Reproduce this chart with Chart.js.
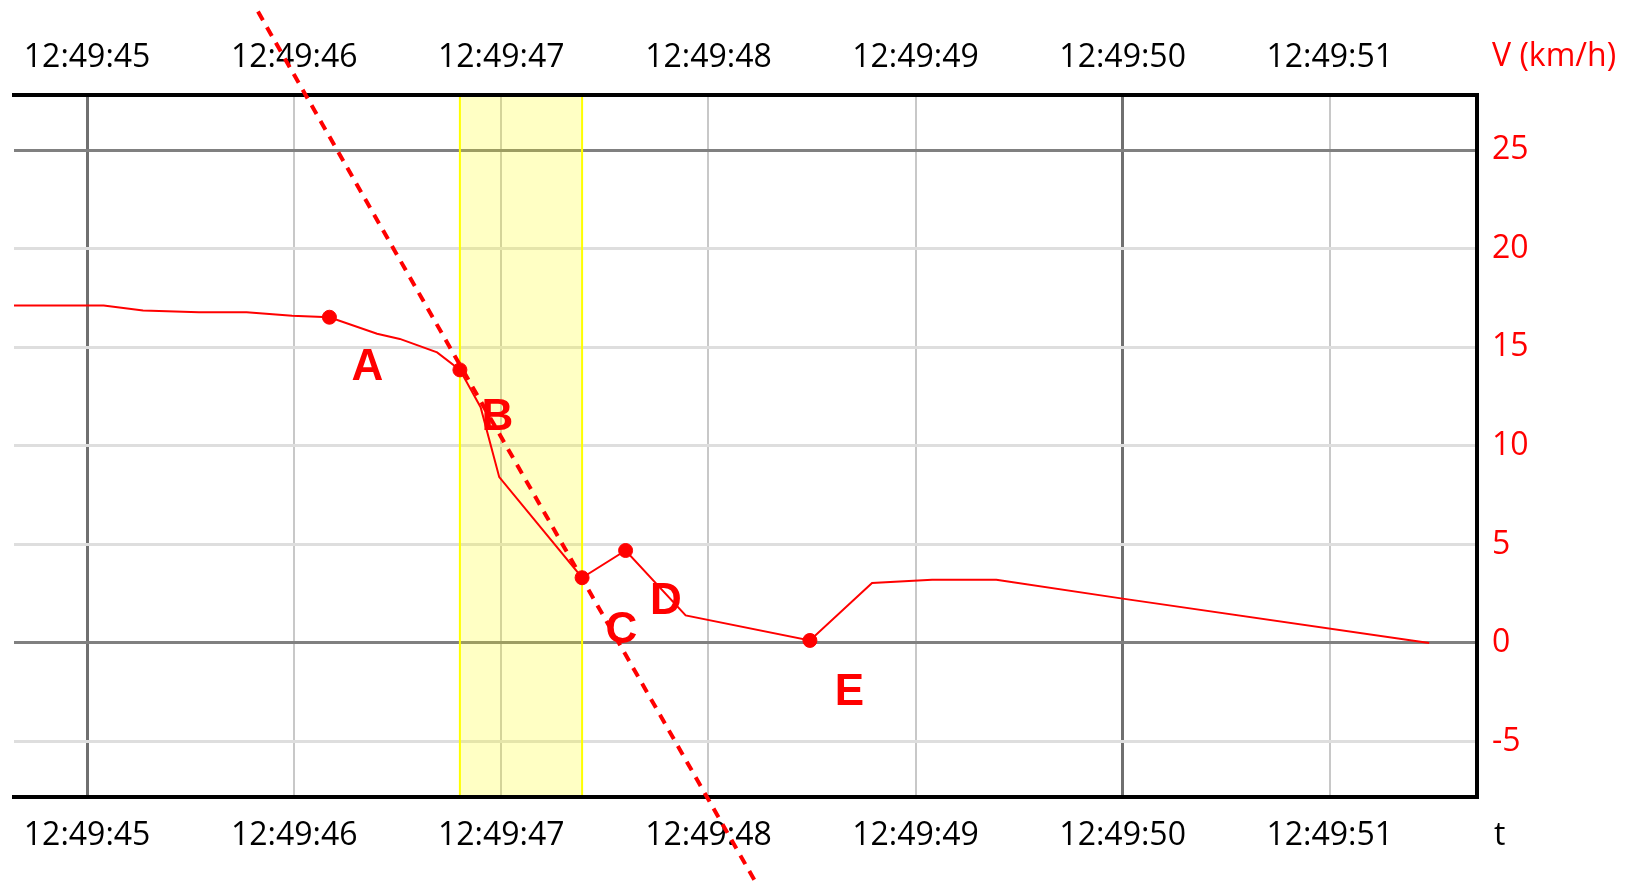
<!DOCTYPE html>
<html>
<head>
<meta charset="utf-8">
<title>V (km/h)</title>
<script src="https://cdn.jsdelivr.net/npm/chart.js@4"></script>
<style>
	body { margin: 0; background: #fff; }
	canvas { display: block; }
</style>
</head>
<body>
<canvas id="chart" width="1649" height="882"></canvas>
<script>
// speed trace, time in seconds after 12:49:00
const speedTime = [44.60, 45.08, 45.27, 45.54, 45.77, 45.99, 46.17, 46.40, 46.51, 46.69, 46.80,
	46.90, 46.99, 47.39, 47.60, 47.89, 48.49, 48.79, 49.08, 49.39, 50.00, 51.48]
const speedValue = [17.11, 17.11, 16.86, 16.77, 16.77, 16.60, 16.52, 15.68, 15.42, 14.74, 13.85,
	11.96, 8.41, 3.31, 4.69, 1.40, 0.13, 3.04, 3.21, 3.21, 2.25, 0.00]

// marked samples
const markTime = [46.17, 46.80, 47.39, 47.60, 48.49]
const markValue = [16.52, 13.85, 3.31, 4.69, 0.13]

// dashed tangent through B and C
const tangentTime = [45.825, 48.235]
const tangentValue = [32.02, -12.26]

// highlighted interval B..C
const bandTime = [46.80, 47.39]

const pointNames = ["A", "B", "C", "D", "E"]
const nameTime = [46.353, 46.981, 47.580, 47.795, 48.681]
const nameValue = [14.14, 11.60, 0.81, 2.27, -2.31]

const timeTicks = [45, 46, 47, 48, 49, 50, 51]
const timeLabels = ["12:49:45", "12:49:46", "12:49:47", "12:49:48", "12:49:49", "12:49:50", "12:49:51"]

function points(xs, ys) {
	return xs.map((x, i) => ({x: x, y: ys[i]}))
}

const font = {family: "'Open Sans', sans-serif", size: 32}

function timeLabel(v) {
	let i = timeTicks.indexOf(v)
	return i < 0 ? "" : timeLabels[i]
}

const bandPlugin = {
	id: "band",
	beforeDatasetsDraw(chart) {
		const ctx = chart.ctx, a = chart.chartArea, x = chart.scales.x
		const x1 = x.getPixelForValue(bandTime[0])
		const x2 = x.getPixelForValue(bandTime[1])
		ctx.save()
		ctx.fillStyle = "rgba(255,255,0,0.23)"
		ctx.fillRect(x1, a.top + 2, x2 - x1, a.bottom - a.top - 4)
		ctx.strokeStyle = "#ffff00"
		ctx.lineWidth = 2
		ctx.beginPath()
		ctx.moveTo(x1, a.top + 2)
		ctx.lineTo(x1, a.bottom - 2)
		ctx.moveTo(x2, a.top + 2)
		ctx.lineTo(x2, a.bottom - 2)
		ctx.stroke()
		ctx.restore()
	}
}

const textPlugin = {
	id: "texts",
	afterDatasetsDraw(chart) {
		const ctx = chart.ctx, a = chart.chartArea
		const x = chart.scales.x, y = chart.scales.y
		ctx.save()
		ctx.fillStyle = "#ff0000"
		ctx.font = "bold 44px 'Liberation Sans', Arial, sans-serif"
		ctx.textAlign = "center"
		ctx.textBaseline = "middle"
		for (let i = 0; i < pointNames.length; i++) {
			ctx.fillText(pointNames[i], x.getPixelForValue(nameTime[i]), y.getPixelForValue(nameValue[i]) + 4)
		}
		ctx.font = "32px 'Open Sans', sans-serif"
		ctx.textAlign = "left"
		ctx.fillText("V (km/h)", y.left + 15, a.top - 38)
		ctx.fillStyle = "#000"
		ctx.fillText("t", y.left + 17, a.bottom + 39)
		ctx.restore()
	}
}

const xTicks = {
	stepSize: 1,
	includeBounds: false,
	autoSkip: false,
	maxRotation: 0,
	color: "#000",
	font: font,
	callback: timeLabel,
}

let chart = new Chart(document.getElementById("chart"), {
	type: "scatter",
	data: {
		datasets: [{
			label: "marks",
			data: points(markTime, markValue),
			backgroundColor: "#ff0000",
			borderColor: "#ff0000",
			pointRadius: 7,
			showLine: false,
		}, {
			label: "tangent",
			data: points(tangentTime, tangentValue),
			borderColor: "#ff0000",
			borderWidth: 4,
			borderDash: [10, 8],
			pointRadius: 0,
			showLine: true,
			clip: false,
		}, {
			label: "V",
			data: points(speedTime, speedValue),
			borderColor: "#ff0000",
			borderWidth: 2,
			pointRadius: 0,
			showLine: true,
		}],
	},
	options: {
		animation: false,
		responsive: false,
		events: [],
		layout: {
			padding: {left: 14, right: 0, top: 0, bottom: 0},
		},
		plugins: {
			legend: {display: false},
			tooltip: {enabled: false},
		},
		scales: {
			x: {
				type: "linear",
				position: "bottom",
				min: 44.647,
				max: 51.711,
				ticks: Object.assign({padding: 20}, xTicks),
				grid: {
					drawTicks: false,
					color: (c) => c.tick && c.tick.value % 5 === 0 ? "#707070" : "#c8c8c8",
					lineWidth: (c) => c.tick && c.tick.value % 5 === 0 ? 3 : 2,
				},
				border: {color: "#000", width: 4},
				afterFit: (s) => { s.height = 85 },
			},
			x2: {
				type: "linear",
				position: "top",
				min: 44.647,
				max: 51.711,
				ticks: Object.assign({padding: 18}, xTicks),
				grid: {display: false, drawTicks: false},
				border: {color: "#000", width: 4},
				afterFit: (s) => { s.height = 95 },
			},
			y: {
				position: "right",
				min: -7.81,
				max: 27.79,
				ticks: {
					stepSize: 5,
					includeBounds: false,
					padding: 15,
					color: "#ff0000",
					font: font,
				},
				grid: {
					drawTicks: false,
					color: (c) => c.tick && c.tick.value % 25 === 0 ? "#808080" : "#dedede",
					lineWidth: 3,
				},
				border: {color: "#000", width: 4},
				afterFit: (s) => { s.width = 172 },
			},
		},
	},
	plugins: [bandPlugin, textPlugin],
})
</script>
</body>
</html>
